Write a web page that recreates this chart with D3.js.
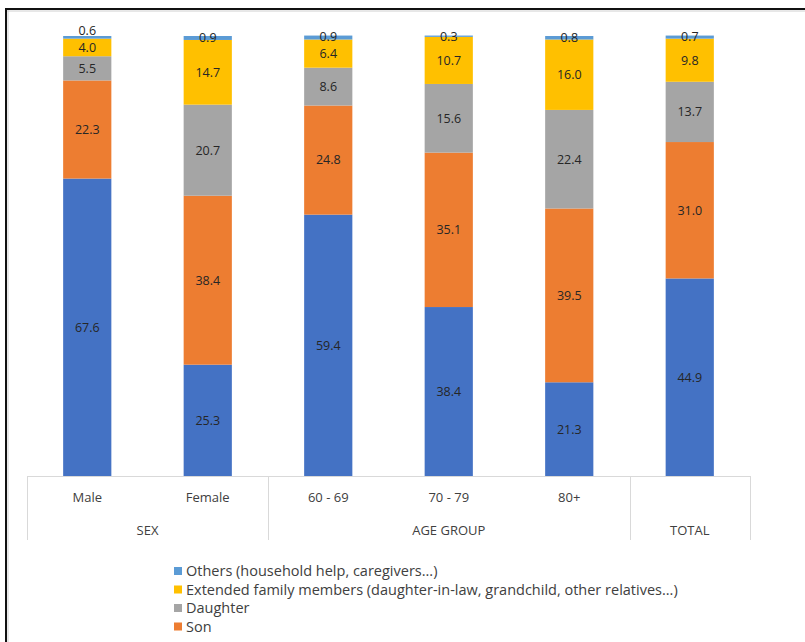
<!DOCTYPE html>
<html>
<head>
<meta charset="utf-8">
<script src="https://cdn.jsdelivr.net/npm/d3@7"></script>
<style>
html,body{margin:0;padding:0;background:#fff;}
svg{display:block;}
text{font-family:"Open Sans",Lato,sans-serif;}
</style>
</head>
<body>
<svg id="chart" width="805" height="642"></svg>
<script>
// ---- data ----
const categories = ["Male", "Female", "60 - 69", "70 - 79", "80+", "TOTAL"];
const tickLabels = ["Male", "Female", "60 - 69", "70 - 79", "80+", ""];
const groups = [
  {name: "SEX", from: 0, to: 1},
  {name: "AGE GROUP", from: 2, to: 4},
  {name: "TOTAL", from: 5, to: 5}
];
const seriesKeys = ["Spouse", "Son", "Daughter", "Extended", "Others"]; // bottom to top
const spouse   = [67.6, 25.3, 59.4, 38.4, 21.3, 44.9];
const son      = [22.3, 38.4, 24.8, 35.1, 39.5, 31.0];
const daughter = [5.5, 20.7, 8.6, 15.6, 22.4, 13.7];
const extended = [4.0, 14.7, 6.4, 10.7, 16.0, 9.8];
const others   = [0.6, 0.9, 0.9, 0.3, 0.8, 0.7];
const legendLabels = [
  {key: "Others", label: "Others (household help, caregivers...)"},
  {key: "Extended", label: "Extended family members (daughter-in-law, grandchild, other relatives...)"},
  {key: "Daughter", label: "Daughter"},
  {key: "Son", label: "Son"}
];

const colors = {Spouse: "#4472c4", Son: "#ed7d31", Daughter: "#a5a5a5", Extended: "#ffc000", Others: "#5b9bd5"};

const rows = categories.map((c, i) => ({
  cat: c, Spouse: spouse[i], Son: son[i], Daughter: daughter[i], Extended: extended[i], Others: others[i]
}));

const svg = d3.select("#chart");

// frame
svg.append("line").attr("x1", 6).attr("x2", 805).attr("y1", 9).attr("y2", 9)
  .attr("stroke", "#111").attr("stroke-width", 2);
svg.append("line").attr("x1", 6).attr("x2", 805).attr("y1", 11).attr("y2", 11)
  .attr("stroke", "#d0d0d0").attr("stroke-width", 1);
svg.append("line").attr("x1", 6).attr("x2", 6).attr("y1", 8).attr("y2", 642)
  .attr("stroke", "#111").attr("stroke-width", 2);
svg.append("line").attr("x1", 8).attr("x2", 8).attr("y1", 10).attr("y2", 642)
  .attr("stroke", "#d0d0d0").attr("stroke-width", 1);

const x = d3.scaleBand().domain(categories).range([27, 750]).paddingInner(0.6).paddingOuter(0.3);
const y = d3.scaleLinear().domain([0, 100]).range([476, 36]);

const stacked = d3.stack().keys(seriesKeys)(rows);

const g = svg.append("g");
stacked.forEach(layer => {
  g.selectAll(null).data(layer).enter().append("rect")
    .attr("x", d => x(d.data.cat))
    .attr("width", x.bandwidth())
    .attr("y", d => y(d[1]))
    .attr("height", d => y(d[0]) - y(d[1]))
    .attr("fill", colors[layer.key]);
});

// label positions with simple collision avoidance (bottom to top)
categories.forEach((c, ci) => {
  let prevY = null;
  stacked.forEach(layer => {
    const d = layer[ci];
    let cy = (y(d[0]) + y(d[1])) / 2;
    if (prevY !== null && prevY - cy < 17) cy = prevY - 17;
    prevY = cy;
    g.append("text")
      .attr("x", x(c) + x.bandwidth() / 2)
      .attr("y", cy)
      .attr("dy", "0.35em")
      .attr("text-anchor", "middle")
      .attr("font-size", 12.5)
      .attr("fill", "#262626")
      .text(d.data[layer.key].toFixed(1));
  });
});

// axis
const bx = i => 27 + i * (750 - 27) / categories.length;
svg.append("line").attr("x1", 27).attr("x2", 750).attr("y1", 476.5).attr("y2", 476.5)
  .attr("stroke", "#d9d9d9");
const bounds = [0, 2, 5, 6];
svg.selectAll(null).data(bounds).enter().append("line")
  .attr("x1", d => Math.round(bx(d)) + 0.5).attr("x2", d => Math.round(bx(d)) + 0.5)
  .attr("y1", 476).attr("y2", 540).attr("stroke", "#d9d9d9");

svg.selectAll(null).data(categories).enter().append("text")
  .attr("x", d => x(d) + x.bandwidth() / 2)
  .attr("y", 502)
  .attr("text-anchor", "middle")
  .attr("font-size", 13)
  .attr("fill", "#404040")
  .text((d, i) => tickLabels[i]);

svg.selectAll(null).data(groups).enter().append("text")
  .attr("x", d => (bx(d.from) + bx(d.to + 1)) / 2)
  .attr("y", 535)
  .attr("text-anchor", "middle")
  .attr("font-size", 13)
  .attr("fill", "#404040")
  .text(d => d.name);

// legend
const lg = svg.append("g");
legendLabels.forEach((d, i) => {
  const yy = 571 + i * 18.5;
  lg.append("rect").attr("x", 174).attr("y", yy - 4).attr("width", 8).attr("height", 8)
    .attr("fill", colors[d.key]);
  lg.append("text").attr("x", 186).attr("y", yy).attr("dy", "0.35em")
    .attr("font-size", 14.5).attr("fill", "#404040").text(d.label);
});
</script>
</body>
</html>
